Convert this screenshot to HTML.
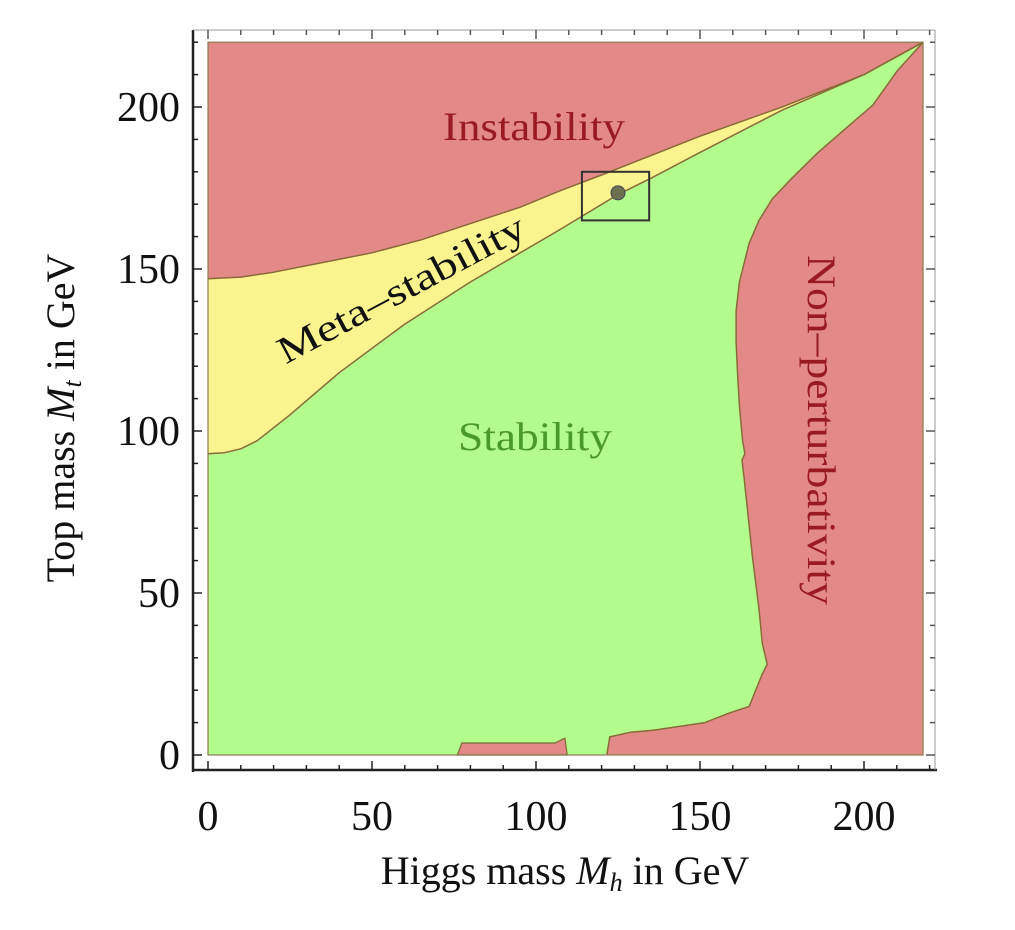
<!DOCTYPE html>
<html><head><meta charset="utf-8"><style>
html,body{margin:0;padding:0;background:#fff;}
svg{display:block;font-family:"Liberation Serif",serif;}
</style></head><body>
<svg width="1015" height="930" viewBox="0 0 1015 930">
<g id="plot"></g>
<g id="axes"></g>
<text x="534" y="140" font-size="40" fill="#9a1a22" text-anchor="middle" textLength="182" lengthAdjust="spacingAndGlyphs">Instability</text>
<text x="535" y="450" font-size="40" fill="#4a9a2a" text-anchor="middle" textLength="154" lengthAdjust="spacingAndGlyphs">Stability</text>
<text transform="translate(407,300) rotate(-28)" font-size="38" fill="#111" text-anchor="middle" textLength="275" lengthAdjust="spacingAndGlyphs">Meta–stability</text>
<text transform="translate(808,430) rotate(90)" font-size="40" fill="#9a1a22" text-anchor="middle" textLength="350" lengthAdjust="spacingAndGlyphs">Non–perturbativity</text>
<text x="565" y="884" font-size="40" fill="#111" text-anchor="middle">Higgs mass <tspan font-style="italic">M</tspan><tspan font-style="italic" font-size="26" dy="7">h</tspan><tspan dy="-7"> in GeV</tspan></text>
<text transform="translate(74,418) rotate(-90)" font-size="40" fill="#111" text-anchor="middle">Top mass <tspan font-style="italic">M</tspan><tspan font-style="italic" font-size="26" dy="7">t</tspan><tspan dy="-7"> in GeV</tspan></text>
<script>
const upperBoundary=[[0,147],[10,147.5],[20,149],[35,152],[50,155],[65,159],[80,164],[95,169],[107,174],[120,179],[130,183],[150,191],[175,200],[200,210],[218,220]];
const lowerBoundary=[[0,93],[5,93.3],[10,94.5],[15,97],[25,105],[40,118],[60,133],[80,146],[107,162],[125,173],[135,178],[150,186],[175,199],[200,210],[218,220]];
const nonPertBoundary=[[218,220],[210,211],[202.7,200.6],[194,193],[186,186],[178,178],[172,171.6],[168,165],[165,158],[162,146],[161,137],[161,127.5],[161.5,117],[162,107.7],[163,97],[163.7,93],[162.8,91],[163.5,85],[166,61],[168,45],[169,34.5],[170.5,28],[169,25],[165,15],[159,13],[151.5,10],[136,7.7],[128.7,7],[122.5,5.6],[121.6,0]];
const redPatch=[[76,0],[77.4,3.7],[105.8,3.7],[108.8,5.2],[109.5,0]];
const higgsPoint=[125,173.5];
const boxRange=[[114,134.5],[165,180]];
const xTicks=[0,50,100,150,200];
const yTicks=[0,50,100,150,200];
const xMin=0,xMax=218,yMin=0,yMax=220;
const X=v=>208+v*3.28, Y=v=>755-v*3.24;
const NS="http://www.w3.org/2000/svg";
function mk(tag,attrs,parent){const e=document.createElementNS(NS,tag);for(const k in attrs)e.setAttribute(k,attrs[k]);parent.appendChild(e);return e;}
function pts(a){return a.map(p=>X(p[0]).toFixed(1)+","+Y(p[1]).toFixed(1)).join(" L");}
const plot=document.getElementById("plot"), axes=document.getElementById("axes");
let r=mk("rect",{x:X(xMin),y:Y(yMax),width:X(xMax)-X(xMin),height:Y(yMin)-Y(yMax),fill:"#e38a88"},plot);


let yl=mk("path",{d:"M"+pts(upperBoundary)+" L"+X(xMax)+","+Y(yMin)+" L"+X(0)+","+Y(0)+"Z",fill:"#fbf38e"},plot);


let nr=mk("path",{d:"M"+pts(nonPertBoundary)+" L"+X(xMax)+","+Y(0)+" L"+X(xMax)+","+Y(yMax)+"Z",fill:"#e38a88"},plot);


let gr=mk("path",{d:"M"+pts(lowerBoundary)+" L"+pts(nonPertBoundary.slice(1))+" L"+X(0)+","+Y(0)+"Z",fill:"#b3fb8c"},plot);


let rp=mk("path",{d:"M"+pts(redPatch)+"Z",fill:"#e38a88",stroke:"#7a6a30","stroke-width":1.2},plot);


[upperBoundary,lowerBoundary,nonPertBoundary].forEach(b=>{
 const l=mk("path",{d:"M"+pts(b),fill:"none",stroke:"#8a6a38","stroke-width":1.5,"stroke-linejoin":"round"},plot);
 
 
});
let bx=mk("rect",{x:X(boxRange[0][0]),y:Y(boxRange[1][1]),width:X(boxRange[0][1])-X(boxRange[0][0]),height:Y(boxRange[1][0])-Y(boxRange[1][1]),fill:"none",stroke:"#333","stroke-width":2},plot);


let dot=mk("circle",{cx:X(higgsPoint[0]),cy:Y(higgsPoint[1]),r:7,fill:"#6a7050",stroke:"#445","stroke-width":1},plot);


let fr=mk("rect",{x:X(xMin),y:Y(yMax),width:X(xMax)-X(xMin),height:Y(yMin)-Y(yMax),fill:"none",stroke:"#8a7a50","stroke-width":1.2},plot);


const L=193,R=935,T=30,B=770;
mk("line",{x1:L,y1:T,x2:L,y2:B+2,stroke:"#222","stroke-width":2.5},axes);
mk("line",{x1:L,y1:B,x2:R+2,y2:B,stroke:"#222","stroke-width":2.5},axes);
mk("line",{x1:L,y1:T,x2:R,y2:T,stroke:"#999","stroke-width":1},axes);
mk("line",{x1:R,y1:T,x2:R,y2:B,stroke:"#999","stroke-width":1},axes);
for(let v=0;v<=220;v+=10){
 const major=v%50===0,len=major?9:5;
 mk("line",{x1:X(v),y1:B,x2:X(v),y2:B-len,stroke:"#222","stroke-width":1.5},axes);
 mk("line",{x1:X(v),y1:T,x2:X(v),y2:T+len,stroke:"#555","stroke-width":1.5},axes);
 mk("line",{x1:L,y1:Y(v),x2:L+len,y2:Y(v),stroke:"#222","stroke-width":1.5},axes);
 mk("line",{x1:R,y1:Y(v),x2:R-len,y2:Y(v),stroke:"#555","stroke-width":1.5},axes);
}
xTicks.forEach(v=>{const t=mk("text",{x:X(v),y:830,"font-size":42,"text-anchor":"middle",fill:"#111"},axes);t.textContent=v;
 
 });
yTicks.forEach(v=>{const t=mk("text",{x:180,y:Y(v)+14,"font-size":42,"text-anchor":"end",fill:"#111"},axes);t.textContent=v;
 
 });
</script>
</svg>
</body></html>
